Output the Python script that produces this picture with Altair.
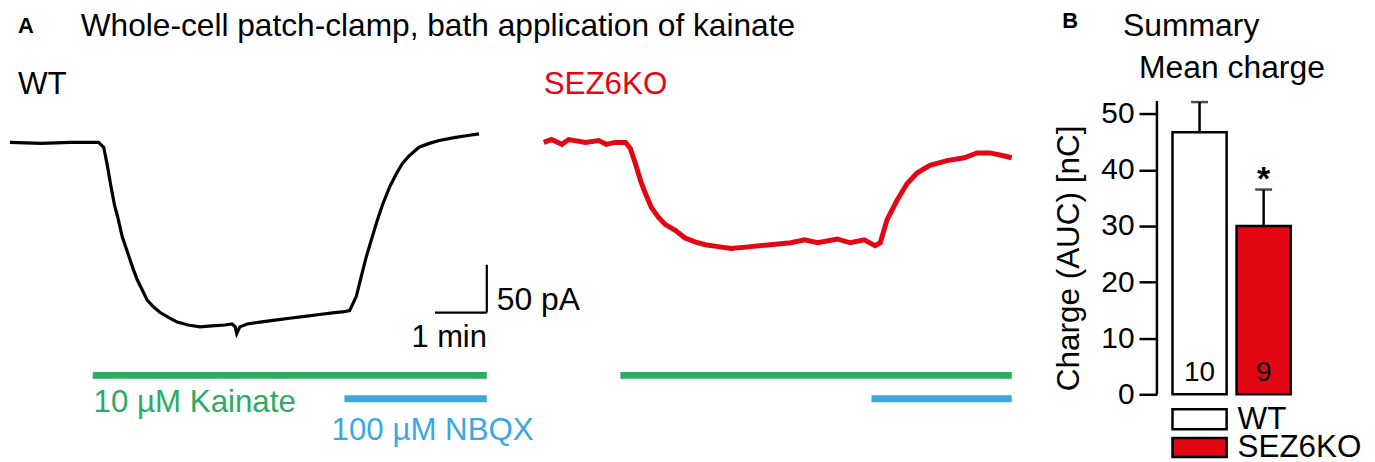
import altair as alt
import pandas as pd

FONT = "Liberation Sans"
RED = "#e30613"
GREEN = "#2bab63"
BLUE = "#39a9e0"

# ---------------- Panel A: traces (time in min from trace start, current in pA vs baseline)
wt_time = [0.00, 0.60, 1.17, 1.71, 1.81, 1.88, 1.94, 2.02, 2.08, 2.17, 2.27, 2.37, 2.46,
           2.56, 2.65, 2.77, 2.90, 3.06, 3.23, 3.44, 3.67, 3.90, 4.15, 4.29, 4.35, 4.38,
           4.44, 4.58, 4.83, 5.12, 5.40, 5.69, 5.98, 6.27, 6.46, 6.56, 6.69, 6.79, 6.88,
           6.98, 7.08, 7.19, 7.33, 7.46, 7.58, 7.71, 7.90, 8.10, 8.29, 8.58, 8.81, 9.06]
wt_current = [0, -1, 0, 0, -5, -24, -43, -66, -78, -99, -115, -131, -144,
              -155, -165, -172, -178, -183, -188, -191, -193, -192, -191, -190, -193, -200,
              -193, -190, -188, -186, -184, -182, -180, -178, -177, -176, -161, -139, -120,
              -102, -84, -66, -47, -33, -22, -14, -5, -1, 2, 5, 7, 9]

ko_time = [0.00, 0.15, 0.35, 0.48, 0.81, 1.06, 1.21, 1.38, 1.58, 1.67, 1.77, 1.87, 1.96,
           2.08, 2.21, 2.35, 2.54, 2.73, 2.92, 3.12, 3.37, 3.62, 4.00, 4.38, 4.77, 5.04,
           5.29, 5.67, 5.92, 6.19, 6.40, 6.50, 6.63, 6.83, 7.02, 7.21, 7.46, 7.79, 8.12,
           8.37, 8.62, 8.88, 9.04]
ko_current = [0, 3, -2, 3, 0, 2, -2, 0, 0, -6, -22, -40, -53,
              -68, -78, -86, -92, -100, -104, -107, -109, -111, -109, -107, -105, -102,
              -105, -101, -105, -102, -108, -105, -81, -60, -43, -32, -24, -19, -16,
              -11, -11, -14, -16]

# drug application periods (min from trace start)
kainate_wt = [1.60, 9.21]
nbqx_wt = [6.46, 9.21]
kainate_ko = [1.48, 9.04]
nbqx_ko = [6.33, 9.04]

# ---------------- Panel B: summary
groups = ["WT", "SEZ6KO"]
charge_mean = [46.7, 30.0]
charge_sem = [5.4, 6.5]
n_cells = [10, 9]
significance = ["", "*"]
y_ticks = [0, 10, 20, 30, 40, 50]

# ---------------- layout constants
KO_OFFSET = 10.31          # horizontal placement of the KO trace (min)
A_W, A_H = 1012, 440
X_DOM = [-0.0192, -0.0192 + A_W / 52.0]
Y_DOM = [-318.75, 139.6]
SB_T, SB_I = 8.21, -178    # scale-bar corner
B_W, B_H = 150, 387
B_YMAX = 68.69
AXIS_TOP = 52.3

xs = alt.Scale(domain=X_DOM, nice=False, zero=False)
ys = alt.Scale(domain=Y_DOM, nice=False, zero=False)

df_wt = pd.DataFrame({"t": wt_time, "I": wt_current})
df_ko = pd.DataFrame({"t": [t + KO_OFFSET for t in ko_time], "I": ko_current})

wt_line = alt.Chart(df_wt).mark_line(color="black", strokeWidth=3.2).encode(
    x=alt.X("t:Q", scale=xs, axis=None), y=alt.Y("I:Q", scale=ys, axis=None))
ko_line = alt.Chart(df_ko).mark_line(color=RED, strokeWidth=5).encode(
    x=alt.X("t:Q", scale=xs, axis=None), y=alt.Y("I:Q", scale=ys, axis=None))

df_kai = pd.DataFrame({"s": [kainate_wt[0], kainate_ko[0] + KO_OFFSET],
                       "e": [kainate_wt[1], kainate_ko[1] + KO_OFFSET]})
df_nbq = pd.DataFrame({"s": [nbqx_wt[0], nbqx_ko[0] + KO_OFFSET],
                       "e": [nbqx_wt[1], nbqx_ko[1] + KO_OFFSET]})
kai_bar = alt.Chart(df_kai).mark_rule(color=GREEN, strokeWidth=7).encode(
    x=alt.X("s:Q", scale=xs, axis=None), x2="e:Q", y=alt.value(368))
nbq_bar = alt.Chart(df_nbq).mark_rule(color=BLUE, strokeWidth=7).encode(
    x=alt.X("s:Q", scale=xs, axis=None), x2="e:Q", y=alt.value(391.5))

sb_df = pd.DataFrame({"t0": [SB_T, SB_T + 1], "t1": [SB_T + 1, SB_T + 1],
                      "i0": [SB_I, SB_I], "i1": [SB_I, SB_I + 50]})
scale_bar = alt.Chart(sb_df).mark_rule(color="black", strokeWidth=2.2).encode(
    x=alt.X("t0:Q", scale=xs, axis=None), x2="t1:Q",
    y=alt.Y("i0:Q", scale=ys, axis=None), y2="i1:Q")


def label(text, x, y, size=30, color="black", weight="normal", align="left"):
    return alt.Chart(pd.DataFrame({"label": [text]})).mark_text(
        align=align, baseline="alphabetic", fontSize=size, font=FONT,
        fontWeight=weight, color=color).encode(
        x=alt.value(x), y=alt.value(y), text="label:N")


panel_a = alt.layer(
    wt_line, ko_line, kai_bar, nbq_bar, scale_bar,
    label("A", 9, 24, size=22, weight="bold"),
    label("Whole-cell patch-clamp, bath application of kainate", 72, 27, size=31.8),
    label("WT", 9, 85, size=31.5),
    label("SEZ6KO", 537, 85, size=31.5, color=RED),
    label("50 pA", 490, 302, size=32),
    label("1 min", 480, 339, size=31, align="right"),
    label("10 \u00b5M Kainate", 85, 405, size=31.4, color=GREEN),
    label("100 \u00b5M NBQX", 324, 433, size=31.4, color=BLUE),
).properties(width=A_W, height=A_H)

# ---------------- Panel B
df_b = pd.DataFrame({"group": groups, "mean": charge_mean, "sem": charge_sem,
                     "n": n_cells, "sig": significance})
df_b["top"] = df_b["mean"] + df_b["sem"]

bx = alt.Scale(domain=groups, paddingInner=0.155, paddingOuter=0.243)
by = alt.Scale(domain=[0, B_YMAX], nice=False, zero=True)
fill_scale = alt.Scale(domain=groups, range=["white", RED])

y_axis = alt.Axis(values=y_ticks, tickSize=18, tickWidth=2.5, tickColor="black",
                  domain=False, grid=False, labelFontSize=30, labelFont=FONT,
                  labelColor="black", labelPadding=5,
                  title="Charge (AUC) [nC]", titleFontSize=31.6, titleFont=FONT,
                  titleFontWeight="normal", titleColor="black", titleX=-79, titleY=250,
                  titleAngle=270, titleAlign="center", titleBaseline="alphabetic")

bars = alt.Chart(df_b).mark_bar(stroke="black", strokeWidth=2.5).encode(
    x=alt.X("group:N", scale=bx, axis=None),
    y=alt.Y("mean:Q", scale=by, axis=y_axis),
    fill=alt.Fill("group:N", scale=fill_scale, legend=None))
err = alt.Chart(df_b).mark_rule(color="black", strokeWidth=2.5).encode(
    x=alt.X("group:N", scale=bx, axis=None), y=alt.Y("mean:Q", scale=by), y2="top:Q")
caps = alt.Chart(df_b).mark_tick(color="black", size=17, thickness=2.5).encode(
    x=alt.X("group:N", scale=bx, axis=None), y=alt.Y("top:Q", scale=by))
axis_line = alt.Chart(pd.DataFrame({"a": [0], "b": [AXIS_TOP]})).mark_rule(
    color="black", strokeWidth=2.5).encode(
    x=alt.value(0), y=alt.Y("a:Q", scale=by), y2="b:Q")
n_text = alt.Chart(df_b).mark_text(fontSize=28, font=FONT, color="black",
                                   baseline="alphabetic").encode(
    x=alt.X("group:N", scale=bx, axis=None), y=alt.value(374), text="n:N")
star = alt.Chart(df_b).mark_text(fontSize=34, font=FONT, fontWeight="bold",
                                 color="black", baseline="alphabetic", dy=0).encode(
    x=alt.X("group:N", scale=bx, axis=None), y=alt.Y("top:Q", scale=by), text="sig:N")

legend_layers = []
legend_y = [(402, 422), (431, 450)]
for g, (y0, y1) in zip(groups, legend_y):
    sub = df_b[df_b["group"] == g]
    legend_layers.append(
        alt.Chart(sub).mark_bar(stroke="black", strokeWidth=2.5).encode(
            x=alt.datum("WT", scale=bx), y=alt.value(y0), y2=alt.value(y1),
            fill=alt.Fill("group:N", scale=fill_scale, legend=None)))
    legend_layers.append(
        alt.Chart(sub).mark_text(fontSize=31.5, font=FONT, color="black", align="left",
                                 baseline="alphabetic").encode(
            x=alt.value(81), y=alt.value(y1), text="group:N"))

panel_b = alt.layer(
    bars, err, caps, axis_line, n_text, star, *legend_layers,
    label("B", -95, 19, size=22, weight="bold"),
    label("Summary", -34, 27, size=32),
    label("Mean charge", -18, 69, size=32),
).properties(width=B_W, height=B_H)

chart = alt.hconcat(panel_a, panel_b, spacing=31).properties(
    padding={"left": -5, "top": 0, "right": 5, "bottom": 0}).configure_view(stroke=None)

chart.save("out.html", embed_options={"renderer": "svg", "actions": False})
